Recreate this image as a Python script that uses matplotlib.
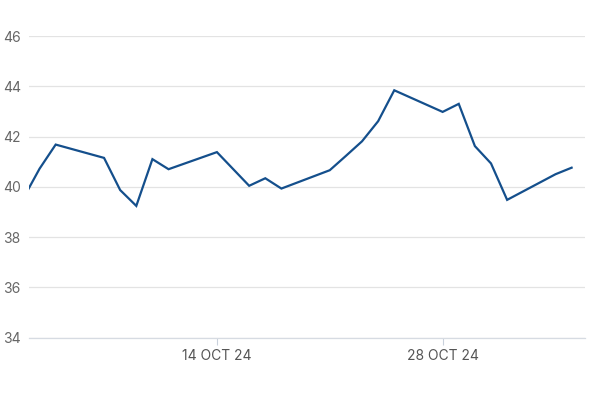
import matplotlib
matplotlib.use('Agg')
import matplotlib.pyplot as plt
import matplotlib.dates as mdates
import numpy as np
from datetime import datetime


######## data ########

dates = ['2024-10-02', '2024-10-03', '2024-10-04',
         '2024-10-07', '2024-10-08', '2024-10-09', '2024-10-10', '2024-10-11',
         '2024-10-14', '2024-10-15', '2024-10-16', '2024-10-17', '2024-10-18',
         '2024-10-21', '2024-10-22', '2024-10-23', '2024-10-24', '2024-10-25',
         '2024-10-28', '2024-10-29', '2024-10-30', '2024-10-31', '2024-11-01',
         '2024-11-04', '2024-11-05']
values = [39.55, 40.72, 41.68,
          41.15, 39.87, 39.24, 41.10, 40.70,
          41.38, 40.71, 40.04, 40.34, 39.93,
          40.66, 41.23, 41.81, 42.61, 43.84,
          42.98, 43.30, 41.62, 40.93, 39.48,
          40.50, 40.76]
tick_dates = ['2024-10-14', '2024-10-28']
y_ticks = [34, 36, 38, 40, 42, 44, 46]

x = [datetime.strptime(d, '%Y-%m-%d') for d in dates]
xt = [datetime.strptime(d, '%Y-%m-%d') for d in tick_dates]


######## plot ########

plt.rcParams['font.family'] = ['Inter', 'DejaVu Sans']

fig = plt.figure(figsize=(6, 4), dpi=100)
ax = fig.add_axes([0.049, 0.156, 0.926, 0.754])

ax.plot(x, values, color='#144f8c', lw=1.6, solid_joinstyle='miter', clip_on=True)

ax.set_ylim(34, 46)
x0 = mdates.date2num(datetime(2024, 10, 2)) + 0.37
x1 = mdates.date2num(datetime(2024, 11, 5)) + 0.83
ax.set_xlim(x0, x1)

ax.set_yticks(y_ticks)
ax.set_yticklabels([str(v) for v in y_ticks])
ax.set_xticks(xt)
ax.set_xticklabels([d.strftime('%d %b %y').upper() for d in xt])

ax.grid(axis='y', color='#e3e3e3', lw=0.9)
ax.set_axisbelow(True)
for s in ['top', 'right', 'left']:
    ax.spines[s].set_visible(False)
ax.spines['bottom'].set_color('#d6dbe2')
ax.spines['bottom'].set_linewidth(0.9)

ax.tick_params(axis='y', length=0, pad=19, labelsize=10, labelcolor='#666666')
for lab in ax.get_yticklabels():
    lab.set_horizontalalignment('left')
ax.tick_params(axis='x', length=5, width=0.8, color='#c9d1dc', pad=3,
               labelsize=10, labelcolor='#555555')

plt.savefig('out.png', dpi=100)
